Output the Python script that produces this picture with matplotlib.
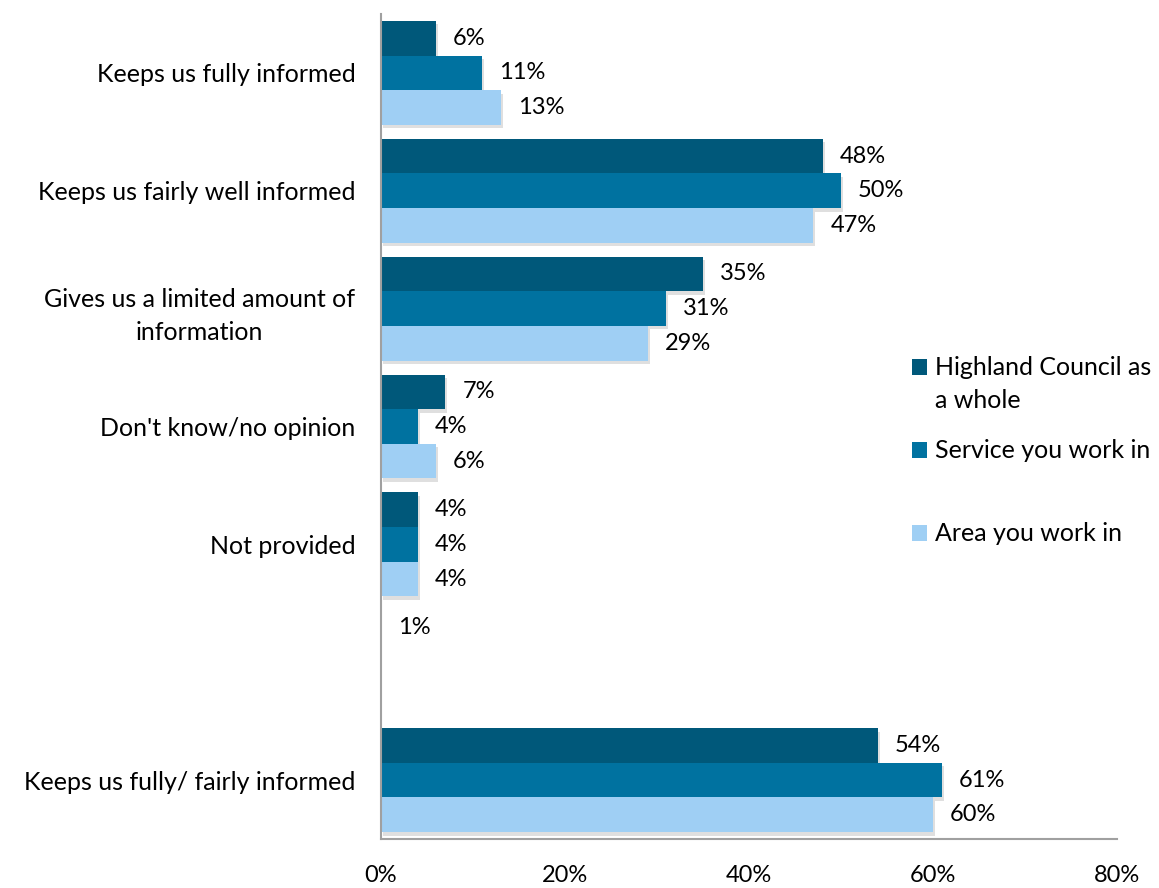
import numpy as np
import matplotlib
matplotlib.use("Agg")
import matplotlib.pyplot as plt
from matplotlib.patches import Rectangle
import matplotlib.patheffects as pe

plt.rcParams['font.family'] = ['Lato', 'DejaVu Sans']

categories = [
    "Keeps us fully informed",
    "Keeps us fairly well informed",
    "Gives us a limited amount of\ninformation",
    "Don't know/no opinion",
    "Not provided",
    "",
    "Keeps us fully/ fairly informed",
]
series_names = ["Highland Council as\na whole", "Service you work in", "Area you work in"]
highland = [6, 48, 35, 7, 4, np.nan, 54]
service = [11, 50, 31, 4, 4, np.nan, 61]
area = [13, 47, 29, 6, 4, np.nan, 60]
blank_note = "1%"
colors = ["#00587A", "#0072A0", "#9FCFF4"]
x_ticks = [0, 20, 40, 60, 80]

FS_TEXT = 18
FS_NUM = 17

fig = plt.figure(figsize=(11.59, 8.88), dpi=100)
ax = fig.add_axes([381 / 1159, 1 - 839 / 888, (1117 - 381) / 1159, (839 - 14) / 888])

y = np.arange(len(categories))
h = 0.294
shadow = [pe.SimplePatchShadow(offset=(1.5, -2.5), shadow_rgbFace="#808080", alpha=0.25), pe.Normal()]

for i, (vals, col) in enumerate(zip([highland, service, area], colors)):
    pos = y + (i - 1) * h
    bars = ax.barh(pos, vals, height=h, color=col, edgecolor="none", zorder=2)
    for b in bars:
        b.set_path_effects(shadow)
    for p, v in zip(pos, vals):
        if np.isnan(v):
            continue
        ax.annotate(f"{v:.0f}%", xy=(v, p), xytext=(17, 0), textcoords="offset pixels",
                    ha="left", va="center", fontsize=FS_NUM, color="black")

# stray note in the blank row
ax.annotate(blank_note, xy=(0, 5 - h), xytext=(17, 0), textcoords="offset pixels",
            ha="left", va="center", fontsize=FS_NUM, color="black")

ax.set_xlim(0, 80)
ax.set_ylim(len(categories) - 0.5, -0.5)
ax.set_xticks(x_ticks)
ax.set_xticklabels([f"{t}%" for t in x_ticks], fontsize=FS_NUM)
ax.set_yticks(y)
ax.set_yticklabels(categories, fontsize=FS_TEXT, ha="right", multialignment="center",
                   linespacing=1.55)
ax.tick_params(axis="x", length=0, pad=19)
ax.tick_params(axis="y", length=0, pad=18.5)

for s in ["top", "right"]:
    ax.spines[s].set_visible(False)
for s in ["left", "bottom"]:
    ax.spines[s].set_color("#A0A0A0")
    ax.spines[s].set_linewidth(1.5)

# legend
leg_y = [367, 450, 533]
for name, col, yy in zip(series_names, colors, leg_y):
    fig.add_artist(Rectangle((912 / 1159, 1 - (yy + 8) / 888), 15 / 1159, 16 / 888,
                             transform=fig.transFigure, facecolor=col, edgecolor="none"))
    fig.text(935 / 1159, 1 - (yy - 11) / 888, name, fontsize=FS_TEXT, ha="left", va="top",
             linespacing=1.5)

fig.savefig("out.png", dpi=100)
